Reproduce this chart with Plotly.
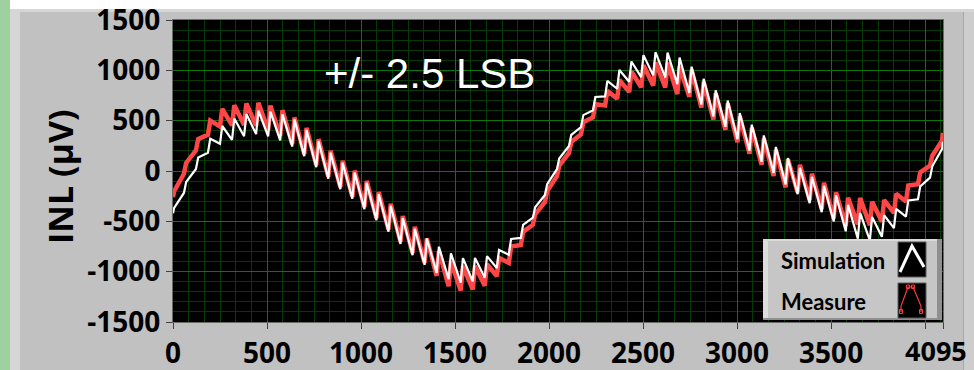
import plotly.graph_objects as go

# ---- data ----
codes = [0, 6, 58, 70, 122, 134, 186, 198, 250, 262, 314, 326, 378, 390, 442, 454, 506,
         518, 570, 582, 634, 646, 698, 710, 762, 774, 826, 838, 890, 902, 954, 966, 1018,
         1030, 1082, 1094, 1146, 1158, 1210, 1222, 1274, 1286, 1338, 1350, 1402, 1414, 1466,
         1478, 1530, 1542, 1594, 1606, 1658, 1670, 1722, 1734, 1786, 1798, 1850, 1862, 1914,
         1926, 1978, 1990, 2042, 2054, 2106, 2118, 2170, 2182, 2234, 2246, 2298, 2310, 2362,
         2374, 2426, 2438, 2490, 2502, 2554, 2566, 2618, 2630, 2682, 2694, 2746, 2758, 2810,
         2822, 2874, 2886, 2938, 2950, 3002, 3014, 3066, 3078, 3130, 3142, 3194, 3206, 3258,
         3270, 3322, 3334, 3386, 3398, 3450, 3462, 3514, 3526, 3578, 3590, 3642, 3654, 3706,
         3718, 3770, 3782, 3834, 3846, 3898, 3910, 3962, 3974, 4026, 4038, 4090, 4095]

simulation = [-420, -366, -218, -110, 20, 134, 181, 320, 270, 447, 309, 521, 346, 566, 367,
              599, 343, 590, 304, 564, 243, 513, 148, 408, 38, 297, -77, 182, -180, 82, -276,
              -16, -379, -118, -488, -229, -603, -345, -724, -467, -836, -574, -932, -670,
              -1012, -752, -1075, -817, -1108, -865, -1097, -863, -1060, -846, -964, -784,
              -832, -675, -665, -535, -464, -360, -238, -130, 18, 124, 249, 358, 436, 555, 603,
              735, 741, 896, 817, 1004, 886, 1088, 932, 1151, 950, 1180, 929, 1177, 863, 1126,
              776, 1036, 660, 916, 542, 802, 439, 700, 316, 575, 201, 460, 92, 353, -19, 239,
              -133, 128, -231, 32, -320, -57, -410, -147, -502, -242, -599, -336, -672, -417,
              -690, -456, -654, -439, -567, -376, -453, -293, -281, -153, -66, 47, 218, 290]

measure = [-260, -201, -28, 80, 205, 317, 361, 500, 442, 617, 454, 654, 456, 671, 450, 679,
           406, 650, 349, 604, 268, 533, 168, 428, 58, 317, -57, 202, -160, 102, -256, 4, -359,
           -98, -468, -209, -583, -325, -704, -447, -816, -554, -912, -670, -1042, -797, -1145,
           -897, -1188, -945, -1177, -943, -1140, -926, -1044, -864, -912, -750, -735, -605,
           -534, -430, -308, -200, -52, 54, 179, 288, 366, 485, 533, 665, 651, 796, 717, 904,
           786, 988, 832, 1051, 850, 1080, 829, 1077, 763, 1036, 736, 1006, 630, 886, 512, 772,
           409, 670, 286, 545, 171, 430, 62, 323, -49, 209, -163, 118, -211, 62, -290, -27,
           -380, -117, -472, -212, -544, -266, -532, -267, -540, -306, -504, -289, -417, -226,
           -303, -143, -131, -13, 54, 152, 300, 380]

x_tickvals = [0, 500, 1000, 1500, 2000, 2500, 3000, 3500, 4000, 4095]
x_ticktext = ["0", "500", "1000", "1500", "2000", "2500", "3000", "3500", "", ""]
x_end_label = "4095"
y_tickvals = [-1500, -1000, -500, 0, 500, 1000, 1500]
y_ticktext = ["-1500", "-1000", "-500", "0", "500", "1000", "1500"]

series_names = ["Simulation", "Measure"]
annotation_text = "+/- 2.5 LSB"
y_title = "INL (µV)"

# ---- layout geometry (pixels) ----
W, H = 974, 370
L, R, T, B = 173, 31, 20, 48
PW, PH = W - L - R, H - T - B


def px(x):
    return (x - L) / PW


def py(y):
    return (H - B - y) / PH


def rect(x0, y0, x1, y1, fill, layer="below", line=None):
    d = dict(type="rect", xref="paper", yref="paper", x0=px(x0), x1=px(x1),
             y0=py(y1), y1=py(y0), fillcolor=fill, layer=layer,
             line=dict(width=0) if line is None else line)
    return d


def path(points, color, width, layer="above"):
    s = "M " + " L ".join(f"{px(a):.5f},{py(b):.5f}" for a, b in points)
    return dict(type="path", xref="paper", yref="paper", path=s, layer=layer,
                line=dict(color=color, width=width))


fig = go.Figure()
fig.add_trace(go.Scatter(x=codes, y=measure, mode="lines", name=series_names[1],
                         line=dict(color="#ff4646", width=4.5), showlegend=False))
fig.add_trace(go.Scatter(x=codes, y=simulation, mode="lines", name=series_names[0],
                         line=dict(color="#ffffff", width=2.2), showlegend=False))

major_grid = "#087808"
minor_grid = "#053a05"
tick_font = dict(family="Open Sans", size=28, color="#000000", weight="bold")

common = dict(showgrid=True, gridcolor=major_grid, gridwidth=1, zeroline=False,
              ticks="outside", ticklen=6, tickcolor="#404040", tickwidth=1,
              showline=True, linecolor="#6a6a6a", linewidth=1, mirror=True,
              tickfont=tick_font, automargin=False, ticklabeloverflow="allow")

fig.update_xaxes(range=[0, 4095], tickmode="array", tickvals=x_tickvals, ticktext=x_ticktext,
                 minor=dict(tickmode="linear", tick0=0, dtick=500 / 6, showgrid=True,
                            gridcolor=minor_grid, gridwidth=1, ticks=""),
                 **common)
fig.update_yaxes(range=[-1500, 1500], tickmode="array", tickvals=y_tickvals, ticktext=y_ticktext,
                 minor=dict(tickmode="linear", tick0=0, dtick=100, showgrid=True,
                            gridcolor=minor_grid, gridwidth=1, ticks=""),
                 **common)

shapes = [
    rect(0, 0, W, 9, "#ffffff"),
    rect(10, 9, W, 12, "#d6d6d6"),
    rect(10, 9, 20, H, "#d6d6d6"),
    rect(0, 0, 10, H, "#9fd09f"),
    rect(963, 12, 964, H, "#a8a8a8"),
    rect(964, 12, W, H, "#cdcdcd"),
    # legend panel
    rect(763, 239, 942, 320, "#c6c6c6", layer="above"),
    rect(763, 239, 768, 320, "#dddddd", layer="above"),
    rect(763, 239, 942, 241, "#d9d9d9", layer="above"),
    rect(937, 239, 942, 320, "#8f8f8f", layer="above"),
    rect(763, 318, 942, 320, "#8f8f8f", layer="above"),
    rect(898, 242, 926, 277, "#000000", layer="above", line=dict(color="#5a5a5a", width=1)),
    rect(898, 283, 926, 318, "#000000", layer="above", line=dict(color="#5a5a5a", width=1)),
    path([(900, 272), (912, 246), (924, 267)], "#ffffff", 3),
    path([(901, 312), (901, 306), (908, 287), (913, 287), (921, 306), (921, 312)], "#ff3c3c", 1.2),
    rect(899.5, 309.5, 902.5, 313.5, "rgba(0,0,0,0)", layer="above", line=dict(color="#ff3c3c", width=1)),
    rect(919.5, 309.5, 922.5, 313.5, "rgba(0,0,0,0)", layer="above", line=dict(color="#ff3c3c", width=1)),
    rect(906.5, 285, 909.5, 288.5, "rgba(0,0,0,0)", layer="above", line=dict(color="#ff3c3c", width=1)),
    rect(911.5, 285, 914.5, 288.5, "rgba(0,0,0,0)", layer="above", line=dict(color="#ff3c3c", width=1)),
]

annotations = [
    dict(text=annotation_text, xref="paper", yref="paper", x=px(429), y=py(73),
         xanchor="center", yanchor="middle", showarrow=False,
         font=dict(family="Liberation Sans, Arial", size=42, color="#ffffff")),
    dict(text=y_title, xref="paper", yref="paper", x=px(60), y=py(177), textangle=-90,
         xanchor="center", yanchor="middle", showarrow=False,
         font=dict(family="Open Sans", size=34, color="#000000", weight="bold")),
    dict(text=series_names[0], xref="paper", yref="paper", x=px(779), y=py(260),
         xanchor="left", yanchor="middle", showarrow=False,
         font=dict(family="Lato", size=22, color="#000000", weight="bold")),
    dict(text=series_names[1], xref="paper", yref="paper", x=px(779), y=py(301),
         xanchor="left", yanchor="middle", showarrow=False,
         font=dict(family="Lato", size=22, color="#000000", weight="bold")),
    dict(text=x_end_label, xref="paper", yref="paper", x=px(936), y=py(350),
         xanchor="center", yanchor="middle", showarrow=False,
         font=dict(family="Open Sans", size=27, color="#000000", weight="bold")),
]

fig.update_layout(width=W, height=H, margin=dict(l=L, r=R, t=T, b=B, pad=0, autoexpand=False),
                  paper_bgcolor="#c1c1c1", plot_bgcolor="#000000",
                  shapes=shapes, annotations=annotations, showlegend=False)

fig.write_html("out.html")
